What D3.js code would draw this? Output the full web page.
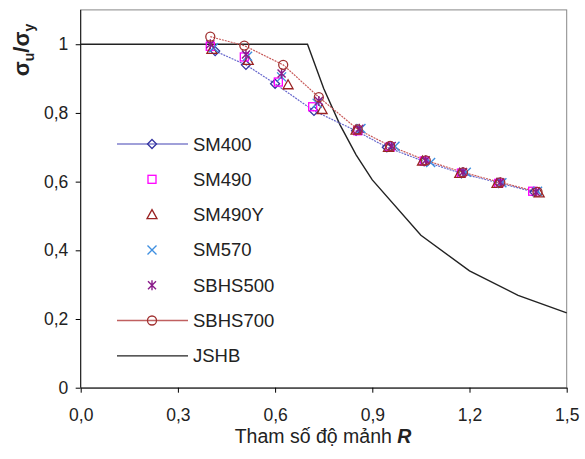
<!DOCTYPE html>
<html>
<head>
<meta charset="utf-8">
<script src="https://cdn.jsdelivr.net/npm/d3@7"></script>
<style>
body { margin: 0; background: #fff; }
text { font-family: "Liberation Sans", Arial, sans-serif; fill: #222; }
</style>
</head>
<body>
<svg id="chart"></svg>
<script>
var w = 585, h = 459;
var x0 = 80.7, x1 = 566.7, y0 = 387.7, y1 = 9.9;

var xTicks = [0, 0.3, 0.6, 0.9, 1.2, 1.5];
var yTicks = [0, 0.2, 0.4, 0.6, 0.8, 1];
var seriesNames = ["SM400", "SM490", "SM490Y", "SM570", "SBHS500", "SBHS700", "JSHB"];

// values
var sm400 = [[0.415,0.98],[0.51,0.94],[0.6,0.885],[0.72,0.806],[0.85,0.748],[0.945,0.700],[1.06,0.659],[1.175,0.624],[1.29,0.596],[1.4,0.570]];
var sm490 = [[0.4,0.994],[0.505,0.963],[0.61,0.89],[0.716,0.818],[0.855,0.748],[0.955,0.701],[1.06,0.660],[1.175,0.625],[1.29,0.595],[1.395,0.572]];
var sm490y = [[0.405,0.985],[0.517,0.953],[0.64,0.882],[0.745,0.810],[0.85,0.750],[0.95,0.700],[1.055,0.660],[1.17,0.624],[1.285,0.595],[1.415,0.567]];
var sm570 = [[0.41,0.99],[0.515,0.965],[0.62,0.905],[0.73,0.828],[0.865,0.755],[0.97,0.703],[1.08,0.656],[1.19,0.627],[1.3,0.597],[1.41,0.572]];
var sbhs500 = [[0.4,1.0],[0.51,0.97],[0.62,0.915],[0.735,0.835],[0.86,0.754],[0.96,0.704],[1.065,0.662],[1.18,0.628],[1.295,0.598],[1.405,0.570]];
var sbhs700 = [[0.4,1.022],[0.505,0.996],[0.625,0.94],[0.735,0.846],[0.855,0.752],[0.955,0.704],[1.065,0.662],[1.18,0.627],[1.295,0.598],[1.41,0.570]];
var jshb = [[0,1],[0.7,1],[0.75,0.871],[0.8,0.766],[0.85,0.678],[0.9,0.605],[1.05,0.444],[1.2,0.34],[1.35,0.269],[1.5,0.218]];

var svg = d3.select("#chart").attr("width", w).attr("height", h);

var x = d3.scaleLinear().domain([0, 1.5]).range([x0, x1]);
var y = d3.scaleLinear().domain([0, 1.1]).range([y0, y1]);

// plot border
svg.append("rect").attr("x", x0).attr("y", y1).attr("width", x1 - x0).attr("height", y0 - y1)
	.attr("fill", "none").attr("stroke", "#888").attr("stroke-width", 1);

var xAxis = svg.append("g").attr("transform", "translate(0," + y0 + ")")
	.call(d3.axisBottom(x).tickValues(xTicks).tickSize(5).tickSizeOuter(0)
		.tickFormat(function(d){ return d3.format(".1f")(d).replace(".", ","); }));
xAxis.select(".domain").attr("stroke", "#111");
xAxis.selectAll("text").attr("font-size", 17.5).attr("dy", "1.45em").attr("fill", "#222");

var yAxis = svg.append("g").attr("transform", "translate(" + x0 + ",0)")
	.call(d3.axisLeft(y).tickValues(yTicks).tickSize(5).tickSizeOuter(0)
		.tickFormat(function(d){ return d === 0 || d === 1 ? String(d) : String(d).replace(".", ","); }));
yAxis.select(".domain").remove();
yAxis.append("line").attr("x1", 0).attr("x2", 0).attr("y1", y1).attr("y2", y0).attr("stroke", "#111");
yAxis.selectAll("text").attr("font-size", 17.5).attr("dx", "-0.25em").attr("fill", "#222");

// axis titles
var xt = svg.append("text").attr("x", 323).attr("y", 443).attr("text-anchor", "middle").attr("font-size", 19.5);
xt.append("tspan").text("Tham số độ mảnh ");
xt.append("tspan").text("R").attr("font-weight", "bold").attr("font-style", "italic");

var yt = svg.append("text").attr("transform", "translate(29,50) rotate(-90)")
	.attr("text-anchor", "middle").attr("font-size", 22).attr("font-weight", "bold");
yt.append("tspan").text("σ");
yt.append("tspan").text("u").attr("font-size", 14).attr("dy", 5);
yt.append("tspan").text("/σ").attr("dy", -5);
yt.append("tspan").text("y").attr("font-size", 14).attr("dy", 5);

var line = d3.line().x(function(d){ return x(d[0]); }).y(function(d){ return y(d[1]); });

svg.append("path").datum(jshb).attr("d", line).attr("fill", "none").attr("stroke", "#222").attr("stroke-width", 1.4);
svg.append("path").datum(sm400).attr("d", line).attr("fill", "none").attr("stroke", "#6666cc").attr("stroke-width", 1.2).attr("stroke-dasharray", "2,1");
svg.append("path").datum(sbhs700).attr("d", line).attr("fill", "none").attr("stroke", "#c85a5a").attr("stroke-width", 1.2).attr("stroke-dasharray", "2,1");

// marker drawing
function marker(g, kind, cx, cy) {
	if (kind == "diamond") {
		g.append("path").attr("d", "M" + cx + "," + (cy - 4.5) + "L" + (cx + 4.5) + "," + cy + "L" + cx + "," + (cy + 4.5) + "L" + (cx - 4.5) + "," + cy + "Z")
			.attr("fill", "none").attr("stroke", "#3333a0").attr("stroke-width", 1.3);
	} else if (kind == "square") {
		g.append("rect").attr("x", cx - 4).attr("y", cy - 4).attr("width", 8).attr("height", 8)
			.attr("fill", "none").attr("stroke", "#ff00ff").attr("stroke-width", 1.3);
	} else if (kind == "triangle") {
		g.append("path").attr("d", "M" + cx + "," + (cy - 5) + "L" + (cx + 5) + "," + (cy + 4) + "L" + (cx - 5) + "," + (cy + 4) + "Z")
			.attr("fill", "none").attr("stroke", "#992222").attr("stroke-width", 1.3);
	} else if (kind == "x") {
		g.append("path").attr("d", "M" + (cx - 4.5) + "," + (cy - 4.5) + "L" + (cx + 4.5) + "," + (cy + 4.5) + "M" + (cx + 4.5) + "," + (cy - 4.5) + "L" + (cx - 4.5) + "," + (cy + 4.5))
			.attr("stroke", "#3f8fe0").attr("stroke-width", 1.4);
	} else if (kind == "star") {
		g.append("path").attr("d", "M" + (cx - 4) + "," + (cy - 4) + "L" + (cx + 4) + "," + (cy + 4) + "M" + (cx + 4) + "," + (cy - 4) + "L" + (cx - 4) + "," + (cy + 4) + "M" + cx + "," + (cy - 5) + "L" + cx + "," + (cy + 5))
			.attr("stroke", "#8a1a8a").attr("stroke-width", 1.4);
	} else if (kind == "circle") {
		g.append("circle").attr("cx", cx).attr("cy", cy).attr("r", 4.5)
			.attr("fill", "none").attr("stroke", "#a03030").attr("stroke-width", 1.3);
	}
}

var sets = [[sm400, "diamond"], [sm490, "square"], [sm490y, "triangle"], [sm570, "x"], [sbhs500, "star"], [sbhs700, "circle"]];
var marks = svg.append("g");
sets.forEach(function(s){
	s[0].forEach(function(d){ marker(marks, s[1], x(d[0]), y(d[1])); });
});

// legend
var legKinds = ["diamond", "square", "triangle", "x", "star", "circle", "none"];
var legLines = ["#8080cc", null, null, null, null, "#c06060", "#222"];
var leg = svg.append("g");
seriesNames.forEach(function(n, i){
	var ly = 144 + i * 35.3;
	if (legLines[i]) leg.append("line").attr("x1", 117).attr("x2", 188).attr("y1", ly).attr("y2", ly)
		.attr("stroke", legLines[i]).attr("stroke-width", 1.3);
	if (legKinds[i] != "none") marker(leg, legKinds[i], 152, ly);
	leg.append("text").attr("x", 193).attr("y", ly + 6.5).attr("font-size", 18.5).text(n);
});
</script>
</body>
</html>
